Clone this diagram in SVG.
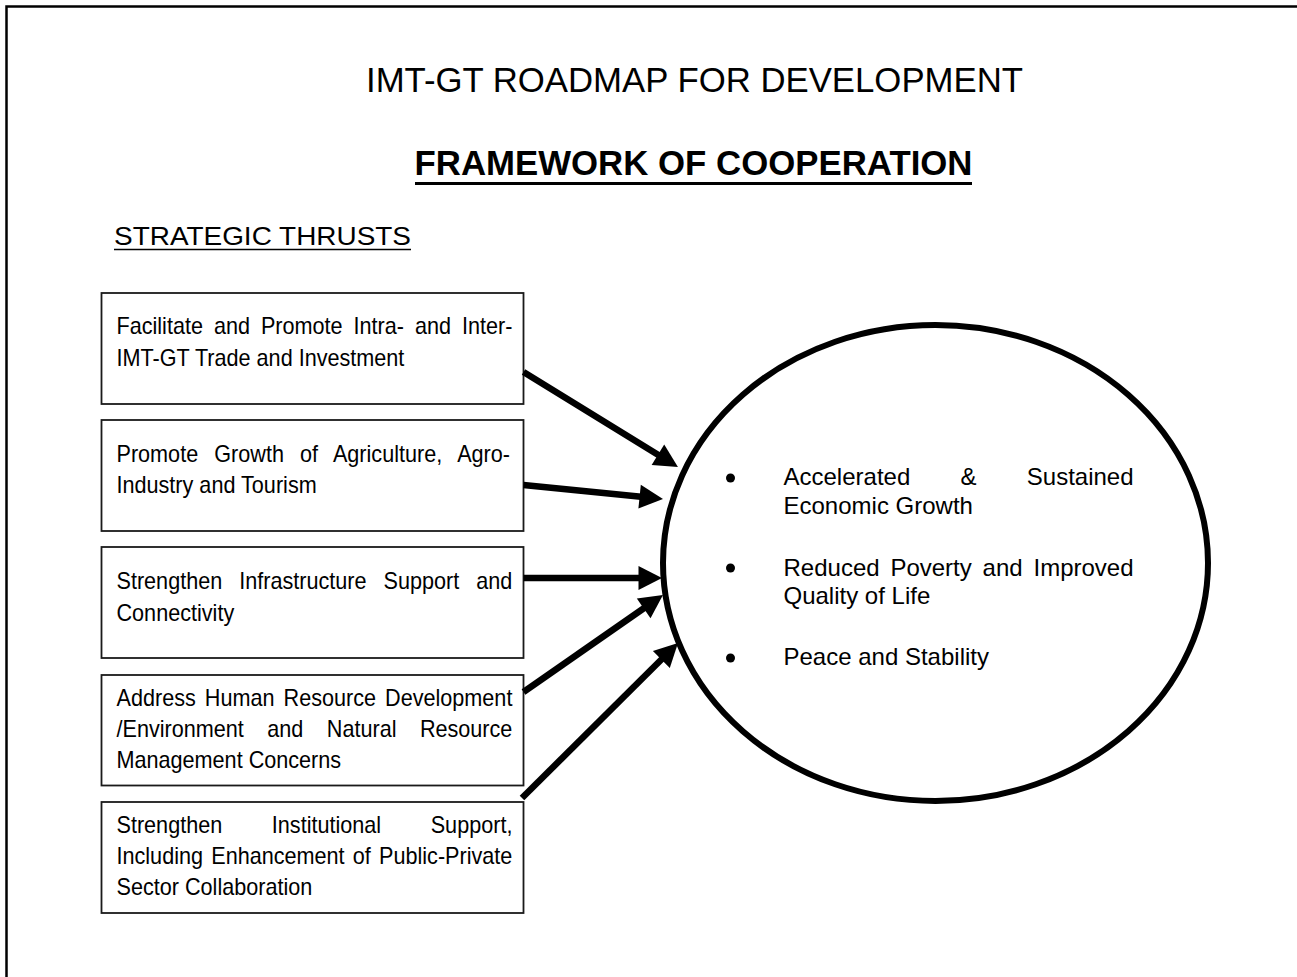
<svg xmlns="http://www.w3.org/2000/svg" width="1297" height="977" viewBox="0 0 1297 977">
<style>
  text { font-family: "Liberation Sans", Arial, sans-serif; fill: #000; }
  .box { fill: #fff; stroke: #1a1a1a; stroke-width: 1.8; }
  .bt { font-size: 23px; }
  .ct { font-size: 24px; }
  .conn { stroke: #000; stroke-width: 6.5; fill: none; marker-end: url(#ah); }
</style>
<defs>
  <marker id="ah" markerUnits="userSpaceOnUse" markerWidth="26" markerHeight="26" refX="0" refY="12" orient="auto" viewBox="-2 0 26 24">
    <path d="M-1.5,0 L22,12 L-1.5,24 z" fill="#000"/>
  </marker>
</defs>
<rect width="1297" height="977" fill="#fff"/>
<rect id="frame" x="6.5" y="6.5" width="1310" height="990" fill="none" stroke="#000" stroke-width="2.5"/>

<g id="title">
  <text x="366" y="92" font-size="34.6" textLength="657" lengthAdjust="spacingAndGlyphs">IMT-GT ROADMAP FOR DEVELOPMENT</text>
  <text x="414.5" y="175" font-size="34.6" font-weight="bold" textLength="558" lengthAdjust="spacingAndGlyphs">FRAMEWORK OF COOPERATION</text>
  <line x1="415" y1="183.5" x2="972" y2="183.5" stroke="#000" stroke-width="3"/>
  <text x="114" y="245" font-size="26" textLength="297" lengthAdjust="spacingAndGlyphs">STRATEGIC THRUSTS</text>
  <line x1="114" y1="249.5" x2="411" y2="249.5" stroke="#000" stroke-width="1.5"/>
</g>

<g id="box1">
  <rect class="box" x="101.5" y="293" width="422" height="111"/>
  <g transform="matrix(0.94,0,0,1,6.99,0)">
    <text class="bt" x="116.5" y="334" word-spacing="5.25">Facilitate and Promote Intra- and Inter-</text>
    <text class="bt" x="116.5" y="366">IMT-GT Trade and Investment</text>
  </g>
</g>
<g id="box2">
  <rect class="box" x="101.5" y="420" width="422" height="111"/>
  <g transform="matrix(0.94,0,0,1,6.99,0)">
    <text class="bt" x="116.5" y="462" word-spacing="10.73">Promote Growth of Agriculture, Agro-</text>
    <text class="bt" x="116.5" y="493">Industry and Tourism</text>
  </g>
</g>
<g id="box3">
  <rect class="box" x="101.5" y="547" width="422" height="111"/>
  <g transform="matrix(0.94,0,0,1,6.99,0)">
    <text class="bt" x="116.5" y="589.5" word-spacing="11.72">Strengthen Infrastructure Support and</text>
    <text class="bt" x="116.5" y="621">Connectivity</text>
  </g>
</g>
<g id="box4">
  <rect class="box" x="101.5" y="675" width="422" height="110.5"/>
  <g transform="matrix(0.94,0,0,1,6.99,0)">
    <text class="bt" x="116.5" y="706" word-spacing="3.23">Address Human Resource Development</text>
    <text class="bt" x="116.5" y="737.5" word-spacing="18.56">/Environment and Natural Resource</text>
    <text class="bt" x="116.5" y="768.5">Management Concerns</text>
  </g>
</g>
<g id="box5">
  <rect class="box" x="101.5" y="802" width="422" height="111"/>
  <g transform="matrix(0.94,0,0,1,6.99,0)">
    <text class="bt" x="116.5" y="833" word-spacing="46.35">Strengthen Institutional Support,</text>
    <text class="bt" x="116.5" y="864.5" word-spacing="2.36">Including Enhancement of Public-Private</text>
    <text class="bt" x="116.5" y="895.5">Sector Collaboration</text>
  </g>
</g>

<g id="goals">
  <ellipse cx="935.5" cy="563" rx="272.5" ry="238" fill="#fff" stroke="#000" stroke-width="6"/>
  <circle cx="730.5" cy="478" r="4.5" fill="#000"/>
  <circle cx="730.5" cy="568" r="4.5" fill="#000"/>
  <circle cx="730.5" cy="658" r="4.5" fill="#000"/>
  <text class="ct" x="783.5" y="485" word-spacing="43.6">Accelerated &amp; Sustained</text>
  <text class="ct" x="783.5" y="513.5">Economic Growth</text>
  <text class="ct" x="783.5" y="575.5" word-spacing="4.17">Reduced Poverty and Improved</text>
  <text class="ct" x="783.5" y="604">Quality of Life</text>
  <text class="ct" x="783.5" y="665">Peace and Stability</text>
</g>

<g id="connectors">
  <line class="conn" x1="523.5" y1="372" x2="659.2" y2="455.5"/>
  <line class="conn" x1="523.5" y1="485" x2="641.1" y2="496.8"/>
  <line class="conn" x1="523.5" y1="578" x2="640" y2="578"/>
  <line class="conn" x1="523.5" y1="692" x2="644.9" y2="607.5"/>
  <line class="conn" x1="522" y1="798" x2="662.4" y2="658.5"/>
</g>
</svg>
